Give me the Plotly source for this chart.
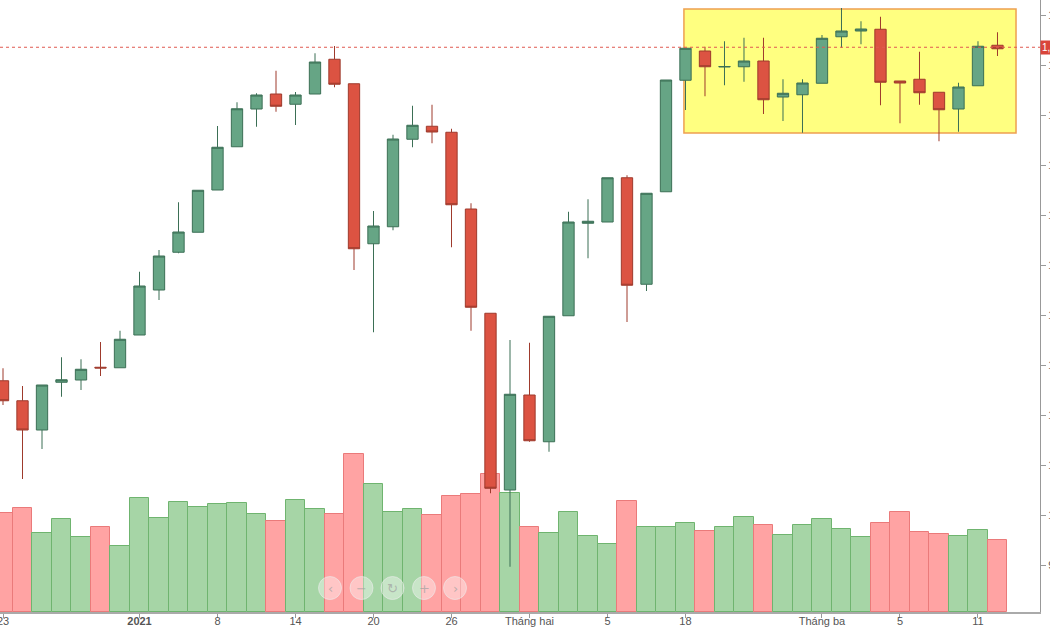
import plotly.graph_objects as go

dates = ["2020-12-23","2020-12-24","2020-12-25","2020-12-28","2020-12-29","2020-12-30","2020-12-31",
         "2021-01-04","2021-01-05","2021-01-06","2021-01-07","2021-01-08","2021-01-11","2021-01-12",
         "2021-01-13","2021-01-14","2021-01-15","2021-01-18","2021-01-19","2021-01-20","2021-01-21",
         "2021-01-22","2021-01-25","2021-01-26","2021-01-27","2021-01-28","2021-01-29","2021-02-01",
         "2021-02-02","2021-02-03","2021-02-04","2021-02-05","2021-02-08","2021-02-09","2021-02-17",
         "2021-02-18","2021-02-19","2021-02-22","2021-02-23","2021-02-24","2021-02-25","2021-02-26",
         "2021-03-01","2021-03-02","2021-03-03","2021-03-04","2021-03-05","2021-03-08","2021-03-09",
         "2021-03-10","2021-03-11","2021-03-12"]

open_ = [1053.7,1045.7,1034.0,1053.1,1054.0,1059.1,1058.9,1072.0,1090.0,1105.1,1113.1,1130.0,1147.3,
         1162.4,1168.4,1164.3,1168.4,1182.3,1172.5,1108.5,1115.3,1150.3,1155.5,1153.1,1122.4,1080.7,
         1010.0,1048.0,1029.3,1079.7,1116.7,1117.2,1134.9,1092.3,1129.3,1173.9,1185.6,1179.2,1179.3,
         1181.6,1167.2,1168.1,1172.7,1191.3,1193.6,1194.3,1173.6,1174.3,1169.1,1162.4,1171.7,1187.9]
high = [1058.7,1051.6,1052.0,1063.1,1062.3,1069.2,1073.7,1097.3,1106.0,1125.1,1129.9,1155.6,1165.1,
        1168.7,1177.7,1169.2,1184.7,1187.6,1172.5,1121.6,1152.1,1163.7,1164.1,1154.5,1124.7,1080.7,
        1070.0,1068.9,1079.5,1121.3,1126.3,1134.9,1135.9,1128.7,1174.0,1186.7,1187.3,1189.5,1190.9,
        1190.9,1174.3,1174.3,1192.0,1202.8,1197.5,1199.3,1173.6,1185.3,1169.1,1172.9,1189.5,1193.1]
low = [1044.0,1014.4,1026.4,1047.3,1050.0,1055.6,1058.9,1072.0,1086.0,1104.7,1113.1,1130.0,1147.3,
       1155.3,1161.3,1156.0,1168.4,1171.1,1098.0,1073.1,1113.9,1147.1,1148.7,1107.1,1073.7,1008.7,
       979.3,1029.3,1025.3,1079.7,1102.7,1117.2,1077.2,1089.6,1129.3,1162.0,1167.5,1171.9,1173.3,
       1160.4,1157.6,1152.9,1172.7,1186.9,1188.3,1163.9,1156.7,1164.1,1149.5,1153.3,1171.7,1183.6]
close = [1045.7,1034.0,1052.0,1054.1,1058.3,1058.8,1070.3,1091.6,1103.6,1113.2,1129.9,1147.1,1162.5,
         1168.0,1163.5,1168.0,1181.2,1172.3,1106.5,1115.6,1150.4,1155.9,1153.2,1124.1,1083.1,1010.7,
         1048.3,1029.7,1079.5,1117.2,1117.5,1134.9,1091.9,1128.7,1174.0,1186.7,1179.3,1179.4,1181.6,
         1166.1,1168.7,1172.8,1190.7,1193.6,1194.4,1173.1,1172.8,1168.9,1162.1,1171.2,1187.5,1186.5]
volume = [596,622,472,556,448,508,396,682,564,658,628,646,652,590,546,672,618,586,948,766,602,618,
          580,696,706,826,712,512,472,602,458,408,668,508,508,536,488,512,568,524,464,524,556,496,
          452,536,602,480,468,458,490,432]

tick_dates = ["2020-12-23","2021-01-04","2021-01-08","2021-01-14","2021-01-20","2021-01-26",
              "2021-02-01","2021-02-05","2021-02-18","2021-03-01","2021-03-05","2021-03-11"]
tick_text = ["23","<b>2021</b>","8","14","20","26","Tháng hai","5","18","Tháng ba","5","11"]

price_ticks = [980,1000,1020,1040,1060,1080,1100,1120,1140,1160,1180,1200]
last_price = 1187.1

idx = list(range(len(dates)))
tick_idx = [dates.index(d) for d in tick_dates]
up = [c >= o for o, c in zip(open_, close)]

vol_fill = ["#a6d5a6" if u else "#ffa3a3" for u in up]
vol_line = ["#6fb46f" if u else "#ea7a7a" for u in up]

fig = go.Figure()
fig.add_trace(go.Bar(x=idx, y=volume, width=1.0, marker=dict(color=vol_fill, line=dict(color=vol_line, width=1)),
                     yaxis="y", showlegend=False, hoverinfo="skip"))
fig.add_trace(go.Candlestick(x=idx, open=open_, high=high, low=low, close=close, yaxis="y2",
                             increasing=dict(fillcolor="#66a585", line=dict(color="#3b6f55", width=1)),
                             decreasing=dict(fillcolor="#dc5342", line=dict(color="#9e3a2c", width=1)),
                             whiskerwidth=0, showlegend=False))

shapes = [
    dict(type="rect", xref="x", yref="y2", x0=34.92, x1=51.95, y0=1152.8, y1=1202.4,
         fillcolor="#ffff80", line=dict(color="#eea050", width=1.5), layer="below"),
    dict(type="line", xref="paper", yref="y2", x0=0, x1=1, y0=last_price, y1=last_price,
         line=dict(color="#e05a50", width=1, dash="dot")),
]
annotations = [
    dict(xref="paper", yref="y2", x=1.0, y=last_price, xanchor="left", yanchor="middle",
         text=f"{last_price:,.2f}", showarrow=False, bgcolor="#d9453a", borderpad=1,
         font=dict(color="white", size=10, family="Liberation Sans, Arial")),
]
# navigation buttons overlay
W, H = 1040.0, 612.0
for cx, glyph in zip([330, 361.5, 392.5, 424, 455], ["‹", "−", "↻", "+", "›"]):
    r = 11.5
    shapes.append(dict(type="circle", xref="paper", yref="paper",
                       x0=(cx - r) / W, x1=(cx + r) / W, y0=1 - (588 + r) / H, y1=1 - (588 - r) / H,
                       fillcolor="rgba(255,255,255,0.38)", line=dict(color="rgba(235,235,235,0.6)", width=1)))
    annotations.append(dict(xref="paper", yref="paper", x=cx / W, y=1 - 588 / H, text=glyph,
                            showarrow=False, xanchor="center", yanchor="middle",
                            font=dict(color="rgba(160,160,160,0.7)", size=13, family="DejaVu Sans")))

fig.update_layout(
    width=1050, height=630,
    margin=dict(l=0, r=10, t=0, b=18),
    paper_bgcolor="white", plot_bgcolor="white",
    boxgap=0.42, boxgroupgap=0,
    bargap=0,
    shapes=shapes, annotations=annotations,
    font=dict(family="Liberation Sans, Arial", size=11, color="#555"),
    xaxis=dict(range=[-0.154, 53.18], tickmode="array", tickvals=tick_idx, ticktext=tick_text,
               showgrid=False, zeroline=False, showline=True, linecolor="#aaaaaa", linewidth=2,
               ticks="outside", ticklen=4, tickcolor="#999", tickfont=dict(size=11, color="#555"),
               ticklabelstandoff=-6, ticklabeloverflow="allow",
               rangeslider=dict(visible=False), automargin=False),
    yaxis=dict(range=[0, 3672], visible=False, showgrid=False, zeroline=False, automargin=False),
    yaxis2=dict(overlaying="y", side="right", range=[961.2, 1206], tickmode="array",
                tickvals=price_ticks, ticktext=[f"{v:,}" for v in price_ticks],
                showgrid=False, zeroline=False, showline=True, linecolor="#999", linewidth=1,
                ticks="outside", ticklen=5, tickcolor="#999", tickfont=dict(size=11, color="#555"),
                automargin=False),
)

fig.write_html("out.html")
